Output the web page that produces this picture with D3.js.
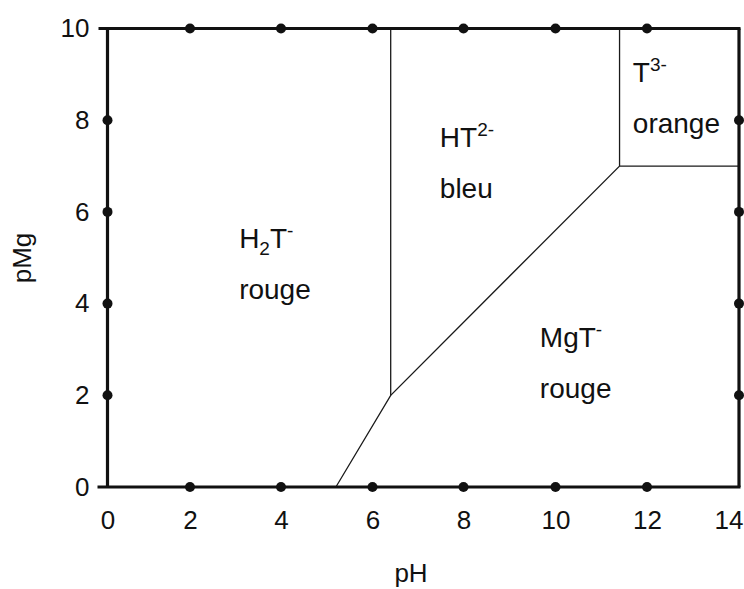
<!DOCTYPE html>
<html>
<head>
<meta charset="utf-8">
<script src="https://cdn.jsdelivr.net/npm/d3@7/dist/d3.min.js"></script>
<style>
  html, body { margin: 0; padding: 0; background: #fff; }
  svg { display: block; }
  text { font-family: "Liberation Sans", Arial, sans-serif; fill: #111; }
</style>
</head>
<body>
<svg id="chart" width="744" height="589"></svg>
<script>
// ---- data ----
const phTicks = [0, 2, 4, 6, 8, 10, 12, 14];
const pMgTicks = [0, 2, 4, 6, 8, 10];
const phDots = [2, 4, 6, 8, 10, 12];
const pMgDots = [2, 4, 6, 8];

// boundaries (pH, pMg)
const boundaryMgT = [[5.2, 0], [6.4, 2], [11.4, 7], [14, 7]];
const boundaryH2T_HT = [[6.4, 2], [6.4, 10]];
const boundaryHT_T = [[11.4, 7], [11.4, 10]];

// region labels: formula parts, colour name, anchor (pH, pMg)
const regionNames = ["H2T-", "HT2-", "MgT-", "T3-"];
const regionParts = [
  [["H", 0], ["2", -1], ["T", 0], ["-", 1]],
  [["HT", 0], ["2-", 1]],
  [["MgT", 0], ["-", 1]],
  [["T", 0], ["3-", 1]]
];
const regionColours = ["rouge", "bleu", "rouge", "orange"];
const regionPH = [3.08, 7.48, 9.66, 11.69];
const regionPMg = [5.21, 7.42, 3.06, 8.84];

// ---- layout ----
const xStops = [107.5, 190, 281, 372.5, 463.5, 555.5, 647, 739];
const yTop = 28.5, yBottom = 487;

const svg = d3.select("#chart");
const x = d3.scaleLinear().domain(phTicks).range(xStops);
const y = d3.scaleLinear().domain([0, 10]).range([yBottom, yTop]);

// inner boundary lines
const line = d3.line().x(d => x(d[0])).y(d => y(d[1]));
[boundaryMgT, boundaryH2T_HT, boundaryHT_T].forEach(b => {
  svg.append("path").attr("d", line(b))
    .attr("fill", "none").attr("stroke", "#1a1a1a").attr("stroke-width", 1.3);
});

// frame
const frame = svg.append("g").attr("stroke", "#111").attr("stroke-width", 3.2).attr("fill", "none");
frame.append("line").attr("x1", x(0) - 9).attr("x2", x(14) + 1.5).attr("y1", y(10)).attr("y2", y(10));
frame.append("line").attr("x1", x(0) - 10).attr("x2", x(14) + 1.5).attr("y1", y(0)).attr("y2", y(0));
frame.append("line").attr("x1", x(0)).attr("x2", x(0)).attr("y1", y(10)).attr("y2", y(0));
frame.append("line").attr("x1", x(14)).attr("x2", x(14)).attr("y1", y(10)).attr("y2", y(0));

// dots
const dots = svg.append("g").attr("fill", "#111");
[0, 10].forEach(v => {
  dots.selectAll(null).data(phDots).enter().append("circle")
    .attr("cx", d => x(d)).attr("cy", y(v)).attr("r", 5);
});
[0, 14].forEach(v => {
  dots.selectAll(null).data(pMgDots).enter().append("circle")
    .attr("cx", x(v)).attr("cy", d => y(d)).attr("r", 5);
});

// axes (labels only)
const xAxis = svg.append("g").attr("transform", `translate(0,${yBottom})`)
  .call(d3.axisBottom(x).tickValues(phTicks).tickSize(0).tickPadding(24).tickFormat(d3.format("d")));
const yAxis = svg.append("g").attr("transform", `translate(${x(0)},0)`)
  .call(d3.axisLeft(y).tickValues(pMgTicks).tickSize(0).tickPadding(18).tickFormat(d3.format("d")));
[xAxis, yAxis].forEach(a => {
  a.select(".domain").remove();
  a.selectAll("text").attr("font-size", 26).attr("fill", "#111")
    .attr("font-family", '"Liberation Sans", Arial, sans-serif');
});
// keep the last pH label inside the picture
xAxis.selectAll(".tick").filter(d => d === 14).select("text")
  .attr("text-anchor", "end").attr("x", 743 - x(14));

// axis titles
svg.append("text").attr("x", 411).attr("y", 582).attr("text-anchor", "middle")
  .attr("font-size", 26).text("pH");
svg.append("text").attr("transform", "translate(31,258) rotate(-90)")
  .attr("text-anchor", "middle").attr("font-size", 26).text("pMg");

// region labels
regionNames.forEach((name, i) => {
  const px = x(regionPH[i]), py = y(regionPMg[i]);
  const t = svg.append("text").attr("x", px).attr("y", py).attr("font-size", 28);
  let shift = 0;
  regionParts[i].forEach(([s, k]) => {
    const target = k === 1 ? -11 : (k === -1 ? 7 : 0);
    t.append("tspan").attr("dy", target - shift)
      .attr("font-size", k === 0 ? 28 : 19).text(s);
    shift = target;
  });
  svg.append("text").attr("x", px).attr("y", py + 51).attr("font-size", 28).text(regionColours[i]);
});
</script>
</body>
</html>
